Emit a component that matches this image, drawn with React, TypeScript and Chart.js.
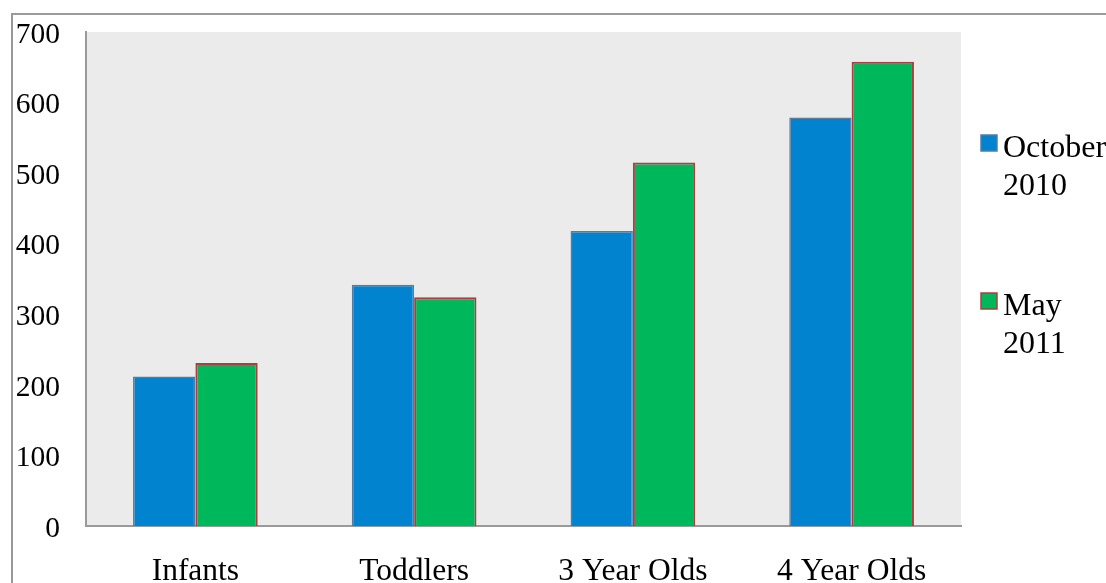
import React, { useEffect, useRef } from "react";
import { Chart, registerables } from "chart.js";

Chart.register(...registerables);

const categories = ["Infants", "Toddlers", "3 Year Olds", "4 Year Olds"];
const october2010 = [212, 342, 418, 579];
const may2011 = [231, 324, 515, 658];
const seriesLabels = [["October", "2010"], ["May", "2011"]];
const yTicks = [0, 100, 200, 300, 400, 500, 600, 700];

const FONT = "'Liberation Serif', 'Times New Roman', serif";

const decorPlugin = {
  id: "decor",
  beforeDraw(chart: any) {
    const { ctx, chartArea } = chart;
    ctx.save();
    ctx.fillStyle = "#ffffff";
    ctx.fillRect(0, 0, chart.width, chart.height);
    ctx.strokeStyle = "#9a9a9a";
    ctx.lineWidth = 2;
    ctx.strokeRect(12, 14, chart.width + 20, chart.height + 20);
    ctx.fillStyle = "#ebebeb";
    ctx.fillRect(chartArea.left, chartArea.top, chartArea.right - chartArea.left, chartArea.bottom - chartArea.top);
    ctx.restore();
  },
  afterDraw(chart: any) {
    const { ctx } = chart;
    ctx.save();
    ctx.font = `32px ${FONT}`;
    ctx.textBaseline = "middle";
    ctx.textAlign = "left";
    const starts = [134, 292];
    chart.data.datasets.forEach((ds: any, i: number) => {
      const y0 = starts[i];
      ctx.fillStyle = ds.backgroundColor;
      ctx.fillRect(981, y0 + 1, 16, 16);
      ctx.strokeStyle = ds.borderColor;
      ctx.lineWidth = 1.5;
      ctx.strokeRect(981, y0 + 1, 16, 16);
      ctx.fillStyle = "#000";
      const lines = seriesLabels[i];
      lines.forEach((t: string, j: number) => {
        ctx.fillText(t, 1003, y0 + 15 + j * 38);
      });
    });
    ctx.restore();
  },
};

export default function App() {
  const ref = useRef<HTMLCanvasElement | null>(null);
  useEffect(() => {
    if (!ref.current) return;
    const chart = new Chart(ref.current, {
      type: "bar",
      data: {
        labels: categories,
        datasets: [
          {
            label: seriesLabels[0].join(" "),
            data: october2010,
            backgroundColor: "#0283cf",
            borderColor: "#4f7ea8",
            borderWidth: 1.5,
            categoryPercentage: 0.57,
            barPercentage: 1,
          },
          {
            label: seriesLabels[1].join(" "),
            data: may2011,
            backgroundColor: "#00b85c",
            borderColor: "#a8403f",
            borderWidth: 2,
            categoryPercentage: 0.57,
            barPercentage: 1,
          },
        ],
      },
      options: {
        animation: false,
        responsive: false,
        maintainAspectRatio: false,
        layout: { autoPadding: false, padding: { left: 0, top: 32, right: 145, bottom: 0 } },
        plugins: { legend: { display: false }, tooltip: { enabled: false } },
        scales: {
          x: {
            grid: { display: false, drawTicks: false },
            border: { display: true, color: "#9a9a9a", width: 2 },
            ticks: { color: "#000", font: { family: FONT, size: 31.5 }, padding: 27 },
            afterFit: (s: any) => { s.height = 57; s.paddingLeft = 0; s.paddingRight = 0; },
          },
          y: {
            min: 0,
            max: 700,
            grid: { display: false, drawTicks: false },
            border: { display: true, color: "#9a9a9a", width: 2 },
            afterBuildTicks: (s: any) => { s.ticks = yTicks.map((v) => ({ value: v })); },
            ticks: { color: "#000", font: { family: FONT, size: 29.5 }, padding: 26, labelOffset: 3 },
            afterFit: (s: any) => { s.width = 86; s.paddingTop = 0; s.paddingBottom = 0; },
          },
        },
      },
      plugins: [decorPlugin],
    });
    return () => chart.destroy();
  }, []);
  return (
    <div style={{ position: "fixed", left: 0, top: 0, width: 1106, height: 583 }}>
      <canvas ref={ref} width={1106} height={583} style={{ display: "block" }} />
    </div>
  );
}
